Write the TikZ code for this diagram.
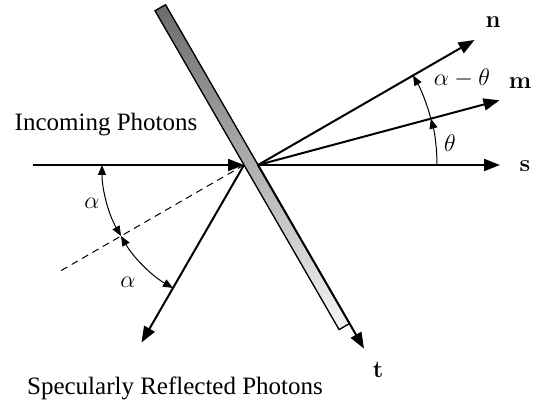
\documentclass[tikz,border=0pt]{standalone}
\usepackage[no-math]{fontspec}
\setmainfont{Liberation Serif}
\usepackage{amsmath,amssymb}
\usetikzlibrary{arrows.meta,calc,positioning}
\tikzset{
  rayarrow/.style={-{Triangle[length=8pt,width=6pt]}, line width=1pt, draw=black},
  rayline/.style={line width=1pt, draw=black},
  normback/.style={dashed, dash pattern=on 3.5pt off 2.5pt, line width=0.5pt},
  anglearc/.style={-{Triangle[length=5pt,width=4pt]}, line width=0.5pt},
  anglearcboth/.style={{Triangle[length=5pt,width=4pt]}-{Triangle[length=5pt,width=4pt]}, line width=0.5pt},
  platebox/.style={top color=black!58, bottom color=white!96!black, draw=black, line width=0.6pt},
  lbltext/.style={font=\fontsize{12.5}{15}\selectfont, inner sep=1pt},
  lblvec/.style={font=\fontsize{12.5}{15}\selectfont, inner sep=1pt}
}

\begin{document}
\begin{tikzpicture}[x=0.5pt, y=0.5pt]
  \useasboundingbox (-258,-240) rectangle (276,165);
  \coordinate (O) at (0,0);
  \coordinate (hit) at (-14,0);
  \coordinate (src) at (-225,0);
  \coordinate (ptop) at (120:185);
  \coordinate (pbot) at (-60:183);
  \coordinate (stip) at (0:242);
  \coordinate (mtip) at (15:250);
  \coordinate (ntip) at (30:250);
  \coordinate (ttip) at (-60:212);
  \coordinate (rtip) at ($(hit)+(240:205)$);
  \coordinate (dend) at ($(hit)+(210:212)$);
  \shade[platebox] (ptop) -- (pbot) -- ($(pbot)+(210:12)$) -- ($(ptop)+(210:12)$) -- cycle;
  \draw[platebox, fill=none] (ptop) -- (pbot) -- ($(pbot)+(210:12)$) -- ($(ptop)+(210:12)$) -- cycle;
  \draw[rayarrow] (src) -- (hit);
  \draw[rayarrow] (O) -- (stip);
  \draw[rayarrow] (O) -- (mtip);
  \draw[rayarrow] (O) -- (ntip);
  \draw[rayarrow] (O) -- (ttip);
  \draw[rayarrow] (hit) -- (rtip);
  \draw[normback] (hit) -- (dend);
  \draw[anglearc] ($(O)+(0:179)$) arc[start angle=0, end angle=15, radius=179];
  \draw[anglearc] ($(O)+(15:179)$) arc[start angle=15, end angle=30, radius=179];
  \draw[anglearcboth] ($(hit)+(180:142)$) arc[start angle=180, end angle=210, radius=142];
  \draw[anglearcboth] ($(hit)+(210:142)$) arc[start angle=210, end angle=240, radius=142];
  \node[lblvec] (nlbl) at (235,143) {$\mathbf{n}$};
  \node[lblvec] (mlbl) at (262,82) {$\mathbf{m}$};
  \node[lblvec] (slbl) at (267,-1) {$\mathbf{s}$};
  \node[lblvec] (tlbl) at (120,-205) {$\mathbf{t}$};
  \node[lbltext] (thlbl) at (192,22) {$\theta$};
  \node[lbltext] (amtlbl) at (204,87) {$\alpha-\theta$};
  \node[lbltext] (alpha1) at (-166,-38) {$\alpha$};
  \node[lbltext] (alpha2) at (-130,-117) {$\alpha$};
  \node[lbltext] (incoming) at (-152,40) {Incoming Photons};
  \node[lbltext] (reflected) at (-83,-223) {Specularly Reflected Photons};
\end{tikzpicture}
\end{document}
